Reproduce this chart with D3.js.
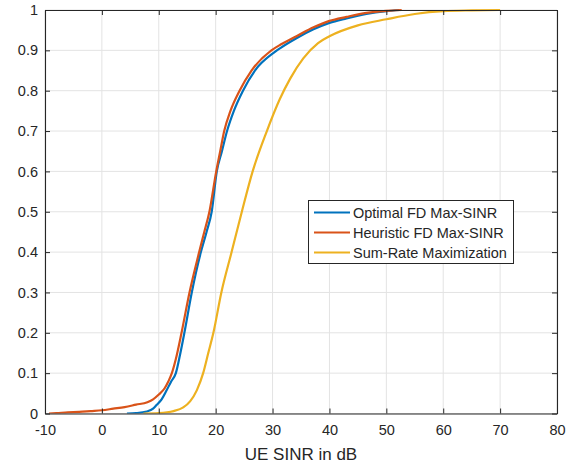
<!DOCTYPE html>
<html>
<head>
<meta charset="utf-8">
<script src="https://cdn.jsdelivr.net/npm/d3@7"></script>
<style>
  body { margin: 0; background: #fff; }
  svg text { font-family: "Liberation Sans", Arial, Helvetica, sans-serif; fill: #262626; }
</style>
</head>
<body>
<script>
// CDF samples: [SINR dB, probability]
var optimalFD = [[4.4,0],[6,0.001],[7.9,0.005],[9,0.012],[9.6,0.021],[10.5,0.035],[11.4,0.058],[12.2,0.08],
  [13.0,0.1],[13.8,0.15],[14.5,0.2],[15.8,0.3],[17.4,0.4],[18.4,0.45],[19.3,0.5],[20.2,0.6],[21.1,0.65],[22.0,0.7],
  [23.2,0.75],[24.8,0.8],[26.9,0.85],[30.3,0.895],[31.3,0.905],[34.2,0.93],[37.2,0.952],
  [40,0.968],[43,0.979],[46.5,0.99],[50,0.997],[52.3,1]];
var heuristicFD = [[-9.3,0],[-8,0.001],[-6,0.003],[-4,0.004],[-2,0.006],[0,0.008],[2,0.012],[4,0.016],
  [6,0.022],[8,0.028],[9,0.035],[10,0.047],[11,0.062],[11.7,0.08],[12.3,0.1],[13,0.135],[14,0.2],
  [15.4,0.3],[17.1,0.4],[18.0,0.45],[18.9,0.5],[20.1,0.6],[20.8,0.65],[21.5,0.7],[22.6,0.75],[24.2,0.8],
  [26.3,0.85],[29.8,0.9],[31.5,0.915],[34.2,0.935],[37.2,0.957],[40,0.973],[43,0.983],
  [46.5,0.993],[50,0.998],[52.7,1]];
var sumRate = [[7.3,0],[10,0.001],[12.6,0.006],[14.3,0.015],[15.5,0.03],[16.7,0.058],[17.8,0.1],
  [18.7,0.15],[19.6,0.2],[21.0,0.3],[22.8,0.4],[24.6,0.5],[26.5,0.6],[29.0,0.7],[31.3,0.78],[33.1,0.83],
  [35.4,0.88],[38,0.918],[40,0.935],[45,0.962],[50,0.977],[55,0.99],[60,0.997],[65,0.999],[70,1]];

var seriesNames = ["Optimal FD Max-SINR", "Heuristic FD Max-SINR", "Sum-Rate Maximization"];
var seriesColors = ["#0072BD", "#D95319", "#EDB120"];
var xTicks = d3.range(-10, 81, 10);
var yTicks = d3.range(0, 11).map(function(d) { return d / 10; });

var w = 570, h = 465;
var pLeft = 45, pRight = 557, pTop = 10, pBottom = 413.5;

var svg = d3.select("body").append("svg")
  .attr("width", w)
  .attr("height", h);

var x = d3.scaleLinear().domain([-10, 80]).range([pLeft, pRight]);
var y = d3.scaleLinear().domain([0, 1]).range([pBottom, pTop]);

// grid
var grid = svg.append("g").attr("stroke", "#e3e3e3").attr("stroke-width", 1);
grid.selectAll(".gx").data(xTicks).enter().append("line")
  .attr("x1", function(d) { return x(d); }).attr("x2", function(d) { return x(d); })
  .attr("y1", pTop).attr("y2", pBottom);
grid.selectAll(".gy").data(yTicks).enter().append("line")
  .attr("x1", pLeft).attr("x2", pRight)
  .attr("y1", function(d) { return y(d); }).attr("y2", function(d) { return y(d); });

// curves
svg.append("clipPath").attr("id", "clip").append("rect")
  .attr("x", pLeft).attr("y", pTop - 2).attr("width", pRight - pLeft).attr("height", pBottom - pTop + 2);

var line = d3.line().curve(d3.curveMonotoneX)
  .x(function(d) { return x(d[0]); }).y(function(d) { return y(d[1]); });
var allSeries = [optimalFD, heuristicFD, sumRate];
svg.append("g").attr("clip-path", "url(#clip)")
  .selectAll("path").data(allSeries).enter().append("path")
  .attr("d", line)
  .attr("fill", "none")
  .attr("stroke", function(d, i) { return seriesColors[i]; })
  .attr("stroke-width", 2.2)
  .attr("stroke-linejoin", "round");

// axes (ticks inward, box on)
function styleAxis(g) {
  g.selectAll("path").attr("stroke", "#262626").attr("stroke-width", 1.1);
  g.selectAll("line").attr("stroke", "#262626");
  g.selectAll("text").attr("font-size", "14.5px").attr("fill", "#262626")
    .attr("font-family", "'Liberation Sans', Arial, sans-serif");
}
var plain = function(d) { return String(d); };
svg.append("g").attr("transform", "translate(0," + pBottom + ")")
  .call(d3.axisBottom(x).tickValues(xTicks).tickSize(-5).tickPadding(11).tickSizeOuter(0).tickFormat(plain))
  .call(styleAxis);
svg.append("g").attr("transform", "translate(0," + pTop + ")")
  .call(d3.axisTop(x).tickValues(xTicks).tickSize(-5).tickFormat("").tickSizeOuter(0))
  .call(styleAxis);
svg.append("g").attr("transform", "translate(" + pLeft + ",0)")
  .call(d3.axisLeft(y).tickValues(yTicks).tickSize(-5).tickPadding(7).tickSizeOuter(0).tickFormat(plain))
  .call(styleAxis);
svg.append("g").attr("transform", "translate(" + pRight + ",0)")
  .call(d3.axisRight(y).tickValues(yTicks).tickSize(-5).tickFormat("").tickSizeOuter(0))
  .call(styleAxis);

// x label
svg.append("text")
  .attr("x", (pLeft + pRight) / 2).attr("y", 460)
  .attr("text-anchor", "middle")
  .attr("font-size", "17px")
  .text("UE SINR in dB");

// legend
var legend = svg.append("g");
legend.append("rect")
  .attr("x", 308.5).attr("y", 200.5).attr("width", 205).attr("height", 63)
  .attr("fill", "#fff").attr("stroke", "#262626").attr("stroke-width", 1);
var items = legend.selectAll(".item").data(seriesNames).enter().append("g")
  .attr("transform", function(d, i) { return "translate(0," + (212.5 + i * 20) + ")"; });
items.append("line")
  .attr("x1", 314).attr("x2", 350).attr("y1", 0).attr("y2", 0)
  .attr("stroke", function(d, i) { return seriesColors[i]; })
  .attr("stroke-width", 2.2);
items.append("text")
  .attr("x", 353).attr("y", 0).attr("dy", "0.35em")
  .attr("font-size", "14.5px")
  .text(function(d) { return d; });
</script>
</body>
</html>
